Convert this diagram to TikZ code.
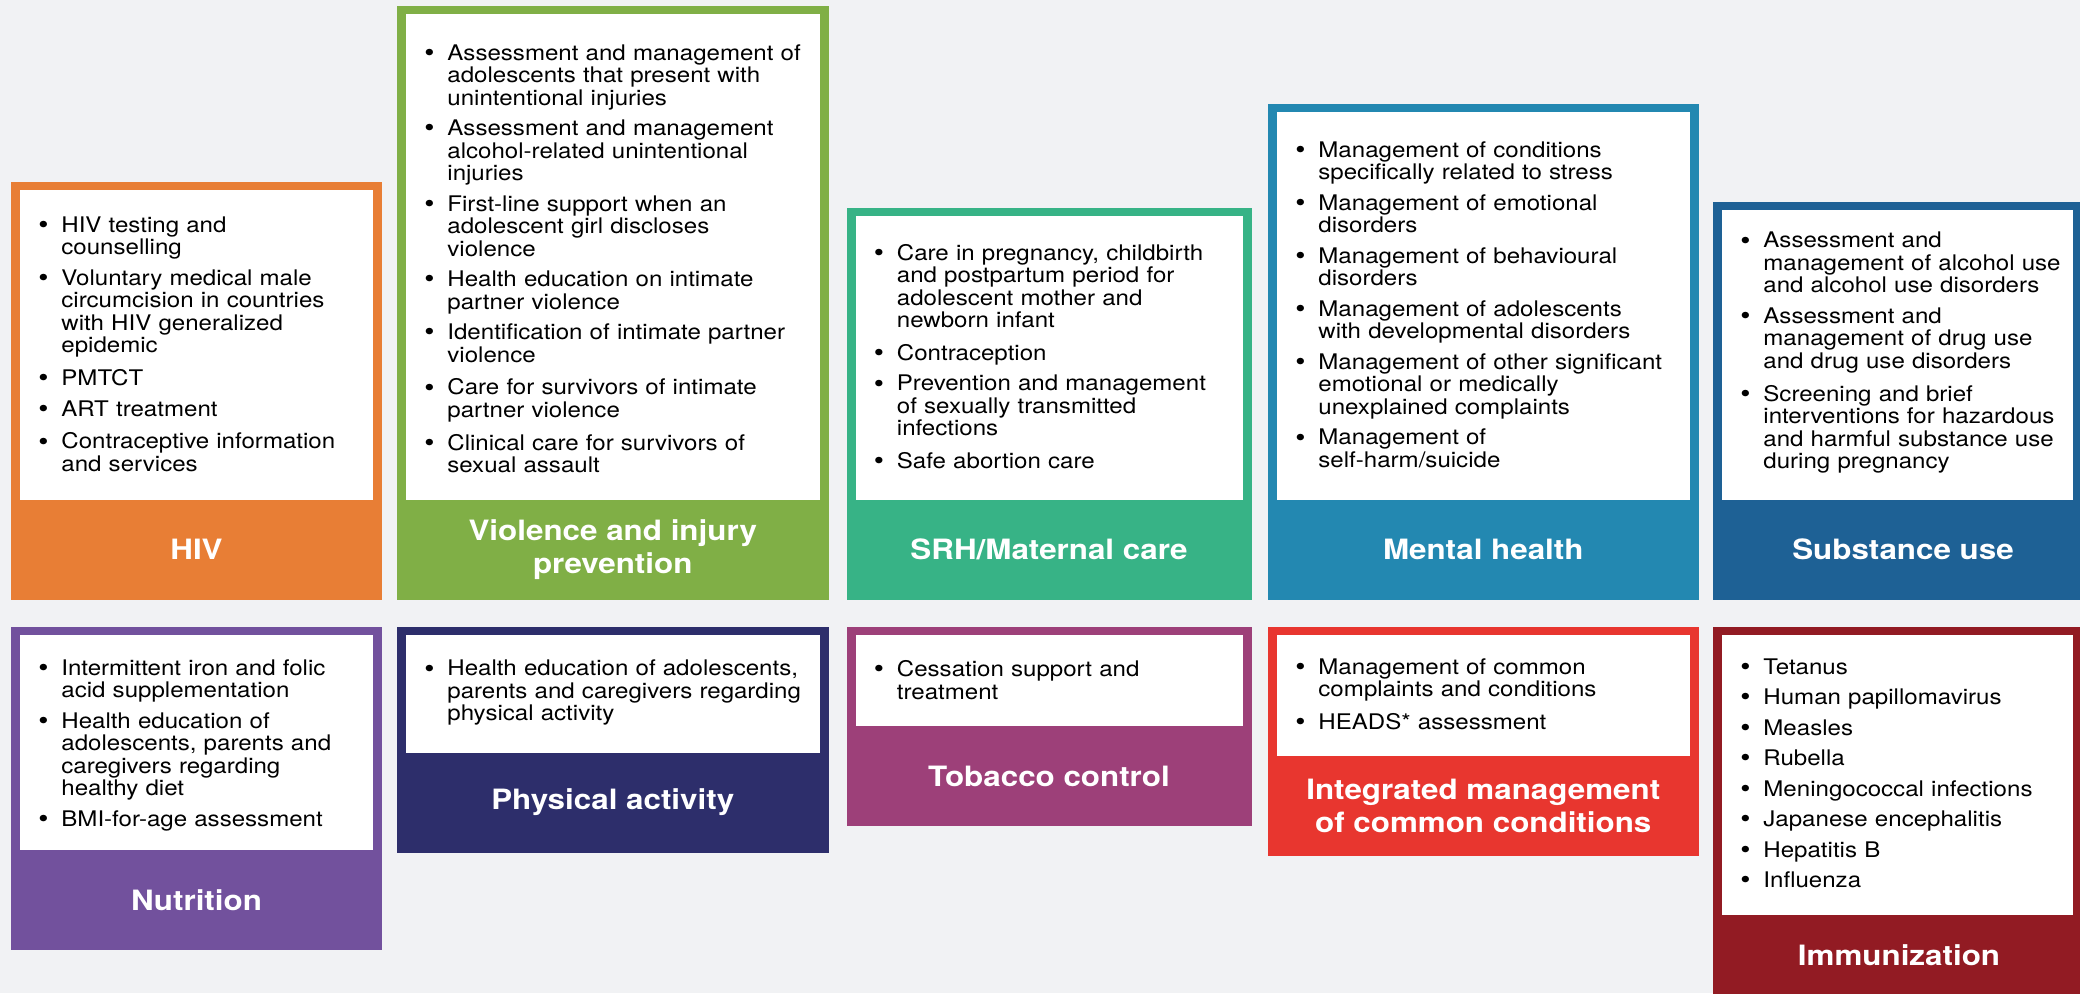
\documentclass[tikz,border=0pt]{standalone}
\usepackage{fontspec}
\setmainfont[FakeStretch=1.12]{TeX Gyre Heros}
\definecolor{bgc}{HTML}{F1F2F4}
\definecolor{hivc}{HTML}{E87E35}
\definecolor{violc}{HTML}{80AF46}
\definecolor{srhc}{HTML}{37B386}
\definecolor{mentc}{HTML}{2388B1}
\definecolor{substc}{HTML}{1E6195}
\definecolor{nutrc}{HTML}{72519D}
\definecolor{physc}{HTML}{2D2E6B}
\definecolor{tobc}{HTML}{9D4079}
\definecolor{imcic}{HTML}{E8362F}
\definecolor{immc}{HTML}{921B23}
\newcommand\bul[1]{\par\noindent\makebox[11.5pt][l]{\raisebox{-0.6pt}{\fontsize{13}{13}\selectfont\textbullet}}%
    \parbox[t]{\dimexpr\hsize-11.5pt\relax}{\strut#1\strut}\par\prevdepth=\dp\strutbox}
\tikzset{head/.style = {font=\fontsize{14}{16.5}\selectfont\bfseries, text=white, align=center, inner sep=0pt},
    blist/.style = {text width=#1, font=\fontsize{10.75}{11.25}\selectfont, inner sep=0pt,
                    anchor=west, execute at begin node={\setlength{\parskip}{4pt}}}}

\begin{document}
\begin{tikzpicture}[x=0.5pt, y=-0.5pt]
    \useasboundingbox (0,0) rectangle (2080,993);
    \clip (0,0) rectangle (2080,993);
    \fill[bgc] (0,0) rectangle (2080,993);

    % coloured cards with white panels
    \foreach \c/\xa/\ya/\xb/\yw in {hivc/11/182/382/499.5, violc/397/5.5/828.5/499.5,
        srhc/846.5/207.5/1251.5/499.5, mentc/1268/103.5/1698.5/499.5, substc/1713/201.5/2082/499.5,
        nutrc/11/626.5/382/850, physc/397/626.5/828.5/752.5, tobc/846.5/626.5/1251.5/726,
        imcic/1268/626.5/1698.5/755.5, immc/1713/626.5/2082/915}
    {
        \fill[\c] (\xa,\ya) rectangle (\xb,\yw+100);
        \fill[white] (\xa+9,\ya+8) rectangle (\xb-9,\yw);
    }

    % headings
    \node[head] (hiv)   at (196.5,549.5)  {HIV};
    \node[head] (viol)  at (612.75,549.5) {Violence and injury\\prevention};
    \node[head] (srh)   at (1049,549.5)   {SRH/Maternal care};
    \node[head] (ment)  at (1483.25,549.5) {Mental health};
    \node[head] (subst) at (1903,549.5)   {Substance use};
    \node[head] (nutr)  at (196.5,900)    {Nutrition};
    \node[head] (phys)  at (612.75,802.5) {Physical activity};
    \node[head] (tob)   at (1049,776)     {Tobacco control};
    \node[head] (imci)  at (1483.25,805.5) {Integrated management\\of common conditions};
    \node[head] (imm)   at (1899,955)     {Immunization};

    % bullet lists
    \node[blist=167.5pt] (hivl) at (38,340) {%
        \bul{HIV testing and\\counselling}
        \bul{Voluntary medical male\\circumcision in countries\\with HIV generalized\\epidemic}
        \bul{PMTCT}
        \bul{ART treatment}
        \bul{Contraceptive information\\and services}};
    \node[blist=197.75pt] (violl) at (424,254.5) {%
        \bul{Assessment and management of\\adolescents that present with\\unintentional injuries}
        \bul{Assessment and management\\alcohol-related unintentional\\injuries}
        \bul{First-line support when an\\adolescent girl discloses\\violence}
        \bul{Health education on intimate\\partner violence}
        \bul{Identification of intimate partner\\violence}
        \bul{Care for survivors of intimate\\partner violence}
        \bul{Clinical care for survivors of\\sexual assault}};
    \node[blist=184.5pt] (srhl) at (873.5,352.5) {%
        \bul{Care in pregnancy, childbirth\\and postpartum period for\\adolescent mother and\\newborn infant}
        \bul{Contraception}
        \bul{Prevention and management\\of sexually transmitted\\infections}
        \bul{Safe abortion care}};
    \node[blist=197pt] (mentl) at (1295,300.5) {%
        \bul{Management of conditions\\specifically related to stress}
        \bul{Management of emotional\\disorders}
        \bul{Management of behavioural\\disorders}
        \bul{Management of adolescents\\with developmental disorders}
        \bul{Management of other significant\\emotional or medically\\unexplained complaints}
        \bul{Management of\\self-harm/suicide}};
    \node[blist=166.5pt] (substl) at (1740,346.5) {%
        \bul{Assessment and\\management of alcohol use\\and alcohol use disorders}
        \bul{Assessment and\\management of drug use\\and drug use disorders}
        \bul{Screening and brief\\interventions for hazardous\\and harmful substance use\\during pregnancy}};
    \node[blist=167.5pt] (nutrl) at (38,739) {%
        \bul{Intermittent iron and folic\\acid supplementation}
        \bul{Health education of\\adolescents, parents and\\caregivers regarding\\healthy diet}
        \bul{BMI-for-age assessment}};
    \node[blist=197.75pt] (physl) at (424,686.5) {%
        \bul{Health education of adolescents,\\parents and caregivers regarding\\physical activity}};
    \node[blist=184.5pt] (tobl) at (873.5,676) {%
        \bul{Cessation support and\\treatment}};
    \node[blist=197pt] (imcil) at (1295,690) {%
        \bul{Management of common\\complaints and conditions}
        \bul{HEADS* assessment}};
    \node[blist=166.5pt] (imml) at (1740,769) {%
        \bul{Tetanus}
        \bul{Human papillomavirus}
        \bul{Measles}
        \bul{Rubella}
        \bul{Meningococcal infections}
        \bul{Japanese encephalitis}
        \bul{Hepatitis B}
        \bul{Influenza}};
\end{tikzpicture}
\end{document}
